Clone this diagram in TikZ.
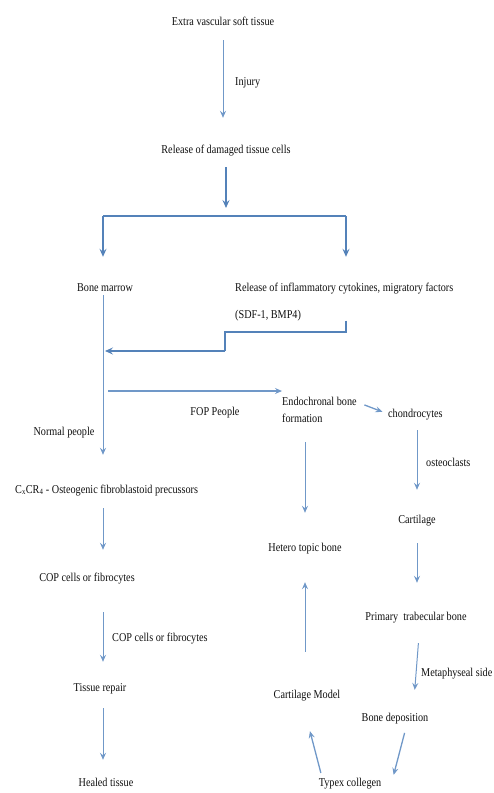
\documentclass[tikz,border=0pt]{standalone}
\usepackage{fontspec}
\setmainfont{Liberation Serif}[FakeStretch=0.85]
\usetikzlibrary{arrows.meta}
\definecolor{thickblue}{RGB}{84,130,185}
\definecolor{thinblue}{RGB}{112,152,200}
\definecolor{txtcol}{RGB}{15,15,15}
\begin{document}
\begin{tikzpicture}[x=1pt,y=-1pt,
  txt/.style={inner sep=0pt, text height=8.5pt, text depth=2.5pt, text=txtcol, font=\fontsize{12}{14}\selectfont},
  tarr/.style={draw=thinblue, line width=1pt, -{Stealth[length=7pt,width=6pt,inset=2.5pt]}},
  barr/.style={draw=thickblue, line width=1.8pt, -{Stealth[length=8pt,width=7pt,inset=3pt]}},
  bline/.style={draw=thickblue, line width=1.8pt},
  tline/.style={draw=thinblue, line width=1pt}]
\useasboundingbox (0,0) rectangle (493,793);
% nodes
\node[txt] (ext) at (223,22) {Extra vascular soft tissue};
\node[txt, anchor=west] (inj) at (235,82) {Injury};
\node[txt] (rel) at (226,150) {Release of damaged tissue cells};
\node[txt] (bm) at (105,288) {Bone marrow};
\node[txt, anchor=west] (inf) at (235,288) {Release of inflammatory cytokines, migratory factors};
\node[txt, anchor=west] (sdf) at (235,315) {(SDF-1, BMP4)};
\node[txt] (np) at (64,432) {Normal people};
\node[txt] (fop) at (215,412) {FOP People};
\node[txt, anchor=west] (endo1) at (282,402) {Endochronal bone};
\node[txt, anchor=west] (endo2) at (282,419) {formation};
\node[txt, anchor=west] (chon) at (388,414) {chondrocytes};
\node[txt, anchor=west] (ost) at (426,463) {osteoclasts};
\node[txt, anchor=west] (cx) at (15,490) {C\textsubscript{x}CR\textsubscript{4} - Osteogenic fibroblastoid precussors};
\node[txt] (cart) at (417,520) {Cartilage};
\node[txt] (het) at (305,548) {Hetero topic bone};
\node[txt] (cop) at (87,578) {COP cells or fibrocytes};
\node[txt] (prim) at (416,617) {Primary~ trabecular bone};
\node[txt, anchor=west] (copl) at (112,638) {COP cells or fibrocytes};
\node[txt, anchor=west] (meta) at (421,673) {Metaphyseal side};
\node[txt] (tis) at (100,688) {Tissue repair};
\node[txt] (cmod) at (307,695) {Cartilage Model};
\node[txt] (bdep) at (395,718) {Bone deposition};
\node[txt] (typ) at (350,783) {Typex collegen};
\node[txt] (heal) at (106,783) {Healed tissue};
% coordinates
\coordinate (sp) at (226,208);
\coordinate (bl) at (103,216);
\coordinate (br) at (346,216);
\coordinate (j1) at (346,332);
\coordinate (j2) at (225,332);
\coordinate (j3) at (225,351);
\coordinate (j4) at (105,351);
\coordinate (fop0) at (108,391);
% connectors
\draw[tarr, shorten <=12.5pt, shorten >=26.5pt] (ext.south) -- (ext.south |- rel.north);
\draw[barr, shorten <=11.5pt] (rel.south) -- (sp);
\draw[bline] (bl) -- (br);
\draw[barr, shorten >=25.5pt] (bl) -- (bl |- bm.north);
\draw[barr, shorten >=25.5pt] (br) -- (br |- inf.north);
\draw[tline, shorten <=1.5pt] (bm.south -| bl) -- (bl |- np.south);
\draw[tarr, shorten >=29.5pt] (bl |- np.south) -- (cx.north -| bl);
\draw[bline] (sdf.south -| br) -- (j1) -- (j2) -- (j3);
\draw[barr] (j3) -- (j4);
\draw[tarr, line width=1.3pt] (fop0) -- (fop0 -| endo1.west);
\draw[tarr, line width=1.3pt, shorten <=8pt, shorten >=6pt] (endo1.east) -- (chon.west);
\draw[tarr, shorten <=10.5pt, shorten >=24.5pt] (chon.south -| cart) -- (cart.north);
\draw[tarr, shorten <=17.5pt, shorten >=29.5pt] (endo2.south -| het) -- (het.north);
\draw[tarr, shorten <=17.5pt, shorten >=28.5pt] (cart.south) -- (cart.south |- prim.north);
\draw[tarr, shorten <=20.5pt, shorten >=22.5pt] ([xshift=4pt]prim.south) -- ([xshift=18pt]bdep.north);
\draw[tarr, line width=1.3pt, shorten <=9.5pt, shorten >=2.5pt] ([xshift=12pt]bdep.south) -- ([xshift=43pt]typ.north);
\draw[tarr, line width=1.3pt, shorten <=4.5pt, shorten >=31.5pt] ([xshift=-28pt]typ.north) -- ([xshift=-5pt]cmod.south);
\draw[tarr, shorten <=37.5pt, shorten >=28.5pt] (cmod.north -| het) -- (het.south);
\draw[tarr, shorten <=12.5pt, shorten >=22.5pt] (cx.south -| bl) -- (cop.north -| bl);
\draw[tarr, shorten <=28.5pt, shorten >=20.5pt] (cop.south -| bl) -- (tis.north -| bl);
\draw[tarr, shorten <=14.5pt, shorten >=17.5pt] (tis.south -| bl) -- (heal.north -| bl);
\end{tikzpicture}
\end{document}
